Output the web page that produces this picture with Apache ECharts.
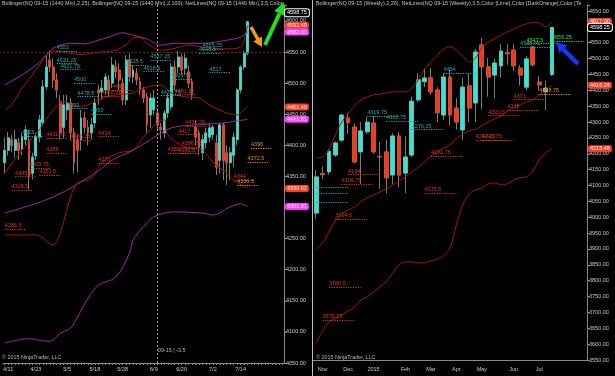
<!DOCTYPE html>
<html><head><meta charset="utf-8">
<script src="https://cdn.jsdelivr.net/npm/echarts@6/dist/echarts.min.js"></script>
<style>html,body{margin:0;padding:0;background:#000;}#c{width:615px;height:376px;}</style>
</head><body><div id="c"></div>
<script>
// ================= LEFT PANEL (1440 Min) =================
const leftSlots = 81;
const leftDateTicks = [[1,'4/11'],[9,'4/23'],[18,'5/5'],[26,'5/18'],[34,'5/28'],[43,'6/9'],[51,'6/20'],[60,'7/2'],[68,'7/14']];
const leftOpen  = [4372,4392,4409,4392,4404,4395,4409,4409,4355,4383,4413,4437,4494,4537,4526,4505,4470,4429,4457,4468,4420,4409,4409,4444,4429,4420,4436,4489,4486,4489,4505,4500,4526,4521,4500,4473,4537,4510,4516,4502,4489,4478,4449,4457,4452,4429,4420,4452,4462,4526,4526,4542,4524,4518,4502,4429,4420,4388,4404,4413,4417,4404,4376,4433,4388,4372,4384,4409,4489,4526,4548];
const leftHigh  = [4413,4421,4417,4425,4412,4420,4432,4425,4388,4420,4449,4505,4545,4552,4540,4516,4481,4481,4481,4476,4428,4417,4457,4454,4441,4444,4476,4497,4505,4516,4513,4542,4537,4532,4508,4545,4548,4529,4524,4510,4494,4484,4484,4489,4460,4436,4457,4484,4532,4537,4552,4548,4548,4529,4508,4441,4425,4417,4428,4436,4433,4417,4436,4436,4400,4397,4420,4492,4529,4552,4600];
const leftLow   = [4355,4384,4389,4380,4376,4384,4400,4328.5,4345,4376,4405,4433,4490,4518,4492,4476,4409,4412,4441,4409,4355,4357,4392,4420,4400,4409,4428,4465,4473,4481,4478,4492,4508,4489,4465,4465,4502,4500,4497,4481,4468,4420,4428,4449,4425,4409,4412,4444,4457,4489,4516,4513,4513,4492,4473,4400,4384,4376,4395,4405,4409,4352,4355,4344,4336.5,4344,4365,4400,4484,4521,4545];
const leftClose = [4392,4412,4400,4409,4392,4413,4425,4352,4381,4413,4441,4494,4526,4526,4505,4489,4420,4465,4468,4420,4372,4392,4444,4429,4420,4433,4468,4484,4492,4510,4489,4529,4518,4505,4473,4537,4510,4521,4505,4489,4476,4433,4476,4476,4433,4425,4452,4476,4526,4497,4542,4521,4540,4500,4481,4413,4397,4409,4420,4428,4429,4365,4433,4376,4372,4388,4413,4489,4526,4548,4598.75];
// Bollinger (2,25) – [bar index, value]
const leftBB25Upper = [[0,4457],[2,4465],[5,4492],[8,4513],[11,4537],[13,4550],[15,4552],[19,4548],[22,4546],[26,4549],[32,4553],[35,4562],[37,4572],[39,4574],[41,4564],[45,4553],[49,4556],[53,4561],[57,4558],[60,4556],[64,4555],[68,4558],[69,4569],[70,4592.49]];
const leftBB25Mid   = [[0,4355],[5,4392],[10,4425],[14,4457],[17,4470],[21,4462],[24,4465],[28,4476],[32,4481],[37,4484],[40,4492],[45,4497],[48,4484],[52,4478],[56,4476],[59,4465],[63,4454],[67,4449],[69,4457],[70,4461.49]];
const leftBB25Lower = [[0,4256],[9,4256],[14,4240],[16,4259],[19,4317],[21,4339],[25,4347],[28,4372],[33,4388],[37,4392],[40,4413],[44,4436],[46,4441],[47,4417],[52,4397],[57,4392],[60,4373],[64,4355],[66,4344],[70,4330.62]];
// Bollinger (2,100)
const leftBB100Upper = [[0,4497],[5,4513],[9,4529],[12,4545],[14,4556],[16,4561],[19,4564],[23,4563],[27,4569],[30,4574],[34,4581],[37,4577],[41,4571],[45,4561],[49,4564],[57,4564],[64,4569],[68,4574],[70,4582.01]];
const leftBB100Mid   = [[0,4291],[14,4317],[26,4355],[31,4376],[37,4392],[42,4409],[48,4428],[56,4433],[63,4436],[70,4441.81]];
const leftBB100Lower = [[0,4082],[7,4089],[12,4085],[14,4087],[16,4098],[19,4106],[21,4124],[24,4154],[27,4175],[32,4188],[36,4227],[37,4248],[40,4269],[43,4285],[49,4293],[57,4291],[60,4288],[65,4301],[68,4306],[70,4301.61]];
// NetLines: [level, start bar, colour key]
const leftNetLines = [
  [4552,15,'c'],[4531.25,15,'c'],[4521.75,16,'c'],[4528.5,35,'c'],[4537.25,42,'c'],[4518.5,40,'c'],[4555.25,57,'c'],[4548.5,56,'c'],[4517,59,'c'],[4500,20,'c'],[4506.75,48,'c'],[4478.5,21,'c'],[4459,18,'c'],[4450,25,'c'],[4479.75,45,'c'],[4415,5,'c'],
  [4489,31,'r'],[4478.75,28,'r'],[4481.5,49,'r'],[4431.25,52,'r'],[4411.75,12,'r'],[4408.25,19,'r'],[4414,27,'r'],[4417,50,'r'],[4388,12,'r'],[4371,27,'r'],[4396.75,51,'r'],[4388,47,'r'],[4386.5,50,'r'],[4344,66,'r'],[4363.75,7,'r'],[4349.5,3,'r'],[4351.5,10,'r'],[4328.5,2,'r'],[4265.5,0,'r'],
  [4396,71,'o'],[4372.5,70,'o'],[4336.5,67,'o']
];
const leftTags = [[4598.75,'k'],[4592.49,'r'],[4582.01,'m'],[4461.49,'r'],[4441.81,'m'],[4330.62,'r'],[4301.61,'m']];
const leftHLine = 4550;
const leftVLineBar = 44;

// ================= RIGHT PANEL (Weekly) =================
const rightSlots = 43;
const rightDateTicks = [[1,'Nov'],[5,'Dec'],[9,'2015'],[14,'Feb'],[18,'Mar'],[22,'Apr'],[26,'May'],[31,'Jun'],[35,'Jul']];
const rightOpen  = [4013,4138,4143,4196,4243,4313,4284,4206,4269,4297,4191,4206,4133,4256,4139,4196,4370,4427,4440,4401,4322,4442,4344,4275,4414,4360,4543,4474,4448,4477,4519,4527,4470,4410,4537,4426,4395,4450];
const rightHigh  = [4149,4160,4215,4240,4326,4328,4295,4300,4315,4319.75,4237,4245,4265,4268,4255,4380,4454,4470,4470,4410,4454,4465,4375,4440,4454,4530,4565,4502,4500,4545,4545,4545,4480,4508,4540,4445,4430,4600];
const rightLow   = [3994.5,4120,4134,4190,4238,4262,4170,4104.75,4262,4200,4090,4075,4105,4095,4075.5,4190,4363,4410,4385,4300,4306,4290,4276.25,4242.25,4300,4300,4340,4380,4375,4440,4480,4460,4415,4400,4475,4400,4338,4445];
const rightClose = [4127,4134,4208,4234,4322,4298,4174,4272,4300,4206,4190,4124,4256,4133,4190,4366,4433,4439,4395,4329,4442,4322,4300,4410,4344,4521,4474,4442,4486,4524,4515,4477,4448,4499,4480,4417,4407,4598.25];
const rightBBUpper = [4187,4190,4212,4259,4300,4325,4351,4370,4379,4386,4388,4392,4395,4395,4395,4407,4433,4467,4489,4511,4530,4537,4527,4508,4489,4502,4534,4552,4562,4574,4584,4593,4603,4609,4615,4612,4600,4617];
const rightBBMid   = [3900,3919,3954,3988,4010,4023,4032,4048,4061,4070,4080,4089,4102,4114,4127,4143,4158,4174,4193,4206,4218,4228,4247,4262,4272,4278,4288,4300,4310,4319,4335,4344,4354,4363,4370,4385,4401,4416.24];
const rightBBLower = [3604,3642,3670,3682,3692,3705,3717,3739,3749,3764,3780,3796,3824,3850,3859,3859,3856,3856,3862,3868,3878,3903,3976,4039,4073,4086,4092,4105,4108,4102,4105,4117,4124,4127,4146,4180,4202,4215.48];
const rightNetLines = [
  [4319.75,8,'c'],[4302.75,11,'c'],[4276.25,15,'c'],[4454,20,'c'],[4535.75,32,'c'],
  [4095,0,'c',false],[4076,0,'c',false],[4048,0,'c',false],
  [4547.5,33,'g'],[4555.25,37,'g'],
  [4388.75,35,'o'],
  [4371,31,'r'],[4338,30,'r'],[4320.5,27,'r'],[4242.25,25,'r'],[4242.75,26,'r'],[4191.75,18,'r'],[4134,5,'r'],[4104.75,4,'r'],[4075.5,17,'r'],[3994.5,3,'r'],[3780.5,2,'r'],[3676.25,1,'r']
];
const rightTags = [[4617,'r'],[4598.25,'k'],[4416.24,'r'],[4215.48,'r']];

// ================= STYLES =================
const FONT = 'Liberation Sans, Arial, sans-serif';
const UP = '#3fe0cf', DOWN = '#f03c1e', WICK = '#7c7c7c';
const NL = {c:'#22a7a7', r:'#e0321a', o:'#e8900c', g:'#35e035'};
const TAG = {r:{backgroundColor:'#ff3b1f',color:'#fff'}, m:{backgroundColor:'#ff3cff',color:'#fff'}, k:{backgroundColor:'#000',color:'#fff',borderColor:'#fff',borderWidth:1}};
const leftTagOffset = {0:-9};
const AXC = '#8a8a8a', LBL = '#c9c9c9';

function cats(n){ return Array.from({length:n},(_,i)=>String(i)); }
function ohlc(o,h,l,c){ return o.map((v,i)=>[v,c[i],l[i],h[i]]); }
function bodies(o,c){ return o.map((v,i)=>[v,c[i],Math.min(v,c[i]),Math.max(v,c[i])]); }
function netData(list,len){
  return list.map(([v,s,k,lab])=>[
    {coord:[s,v], lineStyle:{color:NL[k]}, label:{show:lab!==false, formatter:String(v), color:NL[k]}},
    {coord:[s+len,v]}
  ]);
}
function tagData(list,offs){
  return list.map(([v,k],i)=>({yAxis:v, lineStyle:{color:'rgba(0,0,0,0)', width:0.01},
    label:Object.assign({show:true, position:'end', distance:1, formatter:v.toFixed(2), fontSize:5.5, fontFamily:FONT,
      padding:[1,2,0,2], borderRadius:2, offset:[0,(offs&&offs[i])||0]}, TAG[k])}));
}
function xAxisCfg(grid,n,ticks,margin,showTicks){
  const map={}; ticks.forEach(([i,t])=>map[i]=t);
  return {type:'category', gridIndex:grid, data:cats(n), boundaryGap:true,
    axisLine:{lineStyle:{color:AXC}},
    axisTick:{show:showTicks, interval:0, alignWithLabel:true, length:2, lineStyle:{color:AXC}},
    axisLabel:{interval:0, margin:margin, color:LBL, fontSize:5.5, fontFamily:FONT, formatter:(v,i)=>map[i]||''},
    splitLine:{show:false}};
}
function yAxisCfg(grid,min,max){
  return {type:'value', gridIndex:grid, position:'right', min:min, max:max, interval:50, scale:true,
    axisLine:{show:true, lineStyle:{color:AXC}},
    axisTick:{show:true, length:3, lineStyle:{color:AXC}},
    axisLabel:{margin:2, color:LBL, fontSize:5.5, fontFamily:FONT, formatter:v=>(Math.abs(v%50)<1e-6? v.toFixed(2):'')},
    splitLine:{show:false}};
}
function band(name,x,y,data,color,extra){
  return Object.assign({type:'line', name, xAxisIndex:x, yAxisIndex:y, data, smooth:0.35, symbol:'none',
    lineStyle:{color, width:1}, z:3, silent:true}, extra||{});
}
const MLBASE = {symbol:['none','none'], silent:true, animation:false};

const option = {
  backgroundColor:'#000',
  animation:false,
  grid:[
    {left:0, top:5, width:284, height:358},
    {left:313, top:5, width:274, height:355}
  ],
  xAxis:[ xAxisCfg(0,leftSlots,leftDateTicks,3,true), xAxisCfg(1,rightSlots,rightDateTicks,6,false) ],
  yAxis:[ yAxisCfg(0,4050,4625.6), yAxisCfg(1,3550,4668.9) ],
  series:[
    {type:'candlestick', xAxisIndex:0, yAxisIndex:0, data:ohlc(leftOpen,leftHigh,leftLow,leftClose), barWidth:'68%', z:2, silent:true,
      itemStyle:{color:'rgba(0,0,0,0)', color0:'rgba(0,0,0,0)', borderColor:WICK, borderColor0:WICK, borderWidth:1}},
    {type:'candlestick', xAxisIndex:0, yAxisIndex:0, data:bodies(leftOpen,leftClose), barWidth:'68%', z:2, silent:true,
      itemStyle:{color:UP, color0:DOWN, borderColor:UP, borderColor0:DOWN, borderWidth:0.5}},
    band('bb25u',0,0,leftBB25Upper,'#a8150e',{markLine:Object.assign({}, MLBASE, {
      lineStyle:{type:'dotted', width:1.2},
      label:{position:'insideStartTop', distance:[0,0.5], fontSize:5.5, fontFamily:FONT},
      data:netData(leftNetLines,6)})}),
    band('bb25m',0,0,leftBB25Mid,'#a8150e'),
    band('bb25l',0,0,leftBB25Lower,'#a8150e',{markLine:Object.assign({}, MLBASE, {
      label:{show:false},
      data:[{yAxis:leftHLine, lineStyle:{color:'#8e1c1c', type:[2,2], width:1}},
            {xAxis:leftVLineBar, lineStyle:{color:'#9a9a9a', type:[2,2], width:1}}]})}),
    band('bb100u',0,0,leftBB100Upper,'#a524a5'),
    band('bb100m',0,0,leftBB100Mid,'#a524a5'),
    band('bb100l',0,0,leftBB100Lower,'#a524a5'),
    {type:'candlestick', xAxisIndex:1, yAxisIndex:1, data:ohlc(rightOpen,rightHigh,rightLow,rightClose), barWidth:'68%', z:2, silent:true,
      itemStyle:{color:'rgba(0,0,0,0)', color0:'rgba(0,0,0,0)', borderColor:WICK, borderColor0:WICK, borderWidth:1}},
    {type:'candlestick', xAxisIndex:1, yAxisIndex:1, data:bodies(rightOpen,rightClose), barWidth:'68%', z:2, silent:true,
      itemStyle:{color:UP, color0:DOWN, borderColor:UP, borderColor0:DOWN, borderWidth:0.5}},
    band('wu',1,1,rightBBUpper,'#a8150e',{markLine:Object.assign({}, MLBASE, {
      lineStyle:{type:'dotted', width:1.2},
      label:{position:'insideStartTop', distance:[0,0.5], fontSize:5.5, fontFamily:FONT},
      data:netData(rightNetLines,5)})}),
    band('wm',1,1,rightBBMid,'#a8150e'),
    band('wl',1,1,rightBBLower,'#a8150e'),
    // value tags on the price axes (drawn last, on top)
    {type:'line', xAxisIndex:0, yAxisIndex:0, data:[], z:20, silent:true,
      markLine:Object.assign({}, MLBASE, {z:20, data:tagData(leftTags,leftTagOffset)})},
    {type:'line', xAxisIndex:1, yAxisIndex:1, data:[], z:20, silent:true,
      markLine:Object.assign({}, MLBASE, {z:20, data:tagData(rightTags)})}
  ],
  graphic:[
    {type:'line', shape:{x1:312.5,y1:0,x2:312.5,y2:376}, style:{stroke:'#bdbdbd', lineWidth:1}, z:50},
    {type:'text', left:2, top:1, style:{text:'Bollinger(NQ 09-15 (1440 Min),2,25), Bollinger(NQ 09-15 (1440 Min),2,100), NetLines(NQ 09-15 (1440 Min),3,5,Color', fill:'#c4c4c4', font:'5.4px '+FONT}, z:50},
    {type:'text', left:316, top:1, style:{text:'Bollinger(NQ 09-15 (Weekly),2,26), NetLines(NQ 09-15 (Weekly),3,5,Color [Lime],Color [DarkOrange],Color [Te', fill:'#c4c4c4', font:'5.4px '+FONT}, z:50},
    {type:'text', left:2, top:355, style:{text:'© 2015 NinjaTrader, LLC', fill:'#b8b8b8', font:'5.4px '+FONT}, z:50},
    {type:'text', left:316, top:355, style:{text:'© 2015 NinjaTrader, LLC', fill:'#b8b8b8', font:'5.4px '+FONT}, z:50},
    {type:'text', left:158, top:348, style:{text:'09-15 | -3.5', fill:'#b8b8b8', font:'5.4px '+FONT}, z:50},
    {type:'polyline', shape:{points:[[265,45],[279.5,13.5]]}, style:{stroke:'#1fe01f', lineWidth:4, fill:null}, z:60},
    {type:'polygon', shape:{points:[[284,2],[284.2,15.5],[274.4,11]]}, style:{fill:'#1fe01f'}, z:60},
    {type:'polyline', shape:{points:[[251,27],[258,39.5]]}, style:{stroke:'#f39a1a', lineWidth:3.5, fill:null}, z:60},
    {type:'polygon', shape:{points:[[262,47],[262,36.5],[253.4,41.5]]}, style:{fill:'#f39a1a'}, z:60},
    {type:'polyline', shape:{points:[[578,64],[563,49]]}, style:{stroke:'#1038ff', lineWidth:4.5, fill:null}, z:60},
    {type:'polygon', shape:{points:[[556,42],[567,45.2],[559.2,53]]}, style:{fill:'#1038ff'}, z:60}
  ]
};
const chart = echarts.init(document.getElementById('c'), null, {renderer:'canvas'});
chart.setOption(option);
</script></body></html>
